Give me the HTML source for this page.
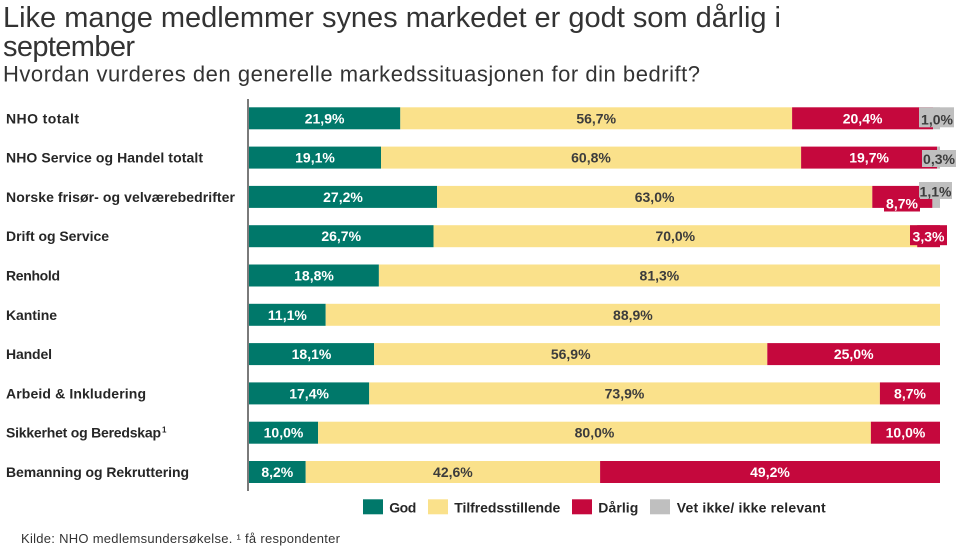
<!DOCTYPE html>
<html>
<head>
<meta charset="utf-8">
<style>
  html, body { margin:0; padding:0; background:#ffffff; }
  svg { display:block; }
  text { font-family: "Liberation Sans", Arial, sans-serif; }
  .lbl { font-size:14px; font-weight:bold; fill:#262626; }
  .vw { font-size:14px; font-weight:bold; fill:#ffffff; text-anchor:middle; }
  .vd { font-size:14px; font-weight:bold; fill:#3c3c3c; text-anchor:middle; }
  .leg { font-size:14px; font-weight:bold; fill:#262626; }
</style>
</head>
<body>
<svg width="960" height="558" viewBox="0 0 960 558" xmlns="http://www.w3.org/2000/svg">
  <rect x="0" y="0" width="960" height="558" fill="#ffffff"/>

  <!-- Titles -->
  <text x="3" y="27" font-size="29" fill="#333333" textLength="778" lengthAdjust="spacing">Like mange medlemmer synes markedet er godt som dårlig i</text>
  <text x="3" y="56" font-size="29" fill="#333333" textLength="132" lengthAdjust="spacing">september</text>
  <text x="3" y="81.5" font-size="22" fill="#333333" textLength="697" lengthAdjust="spacing">Hvordan vurderes den generelle markedssituasjonen for din bedrift?</text>

  <!-- Row labels -->
  <text class="lbl" x="6" y="123.3" textLength="73" lengthAdjust="spacing">NHO totalt</text>
  <text class="lbl" x="6" y="162.6" textLength="197" lengthAdjust="spacing">NHO Service og Handel totalt</text>
  <text class="lbl" x="6" y="201.9" textLength="229" lengthAdjust="spacing">Norske frisør- og velværebedrifter</text>
  <text class="lbl" x="6" y="241.2" textLength="103" lengthAdjust="spacing">Drift og Service</text>
  <text class="lbl" x="6" y="280.5" textLength="54" lengthAdjust="spacing">Renhold</text>
  <text class="lbl" x="6" y="319.8" textLength="51" lengthAdjust="spacing">Kantine</text>
  <text class="lbl" x="6" y="359.1" textLength="46" lengthAdjust="spacing">Handel</text>
  <text class="lbl" x="6" y="398.4" textLength="140" lengthAdjust="spacing">Arbeid &amp; Inkludering</text>
  <text class="lbl" x="6" y="437.7" textLength="155" lengthAdjust="spacing">Sikkerhet og Beredskap</text>
  <text x="162" y="432.5" font-size="8" font-weight="bold" fill="#262626">1</text>
  <text class="lbl" x="6" y="477" textLength="183" lengthAdjust="spacing">Bemanning og Rekruttering</text>

  <!-- Bars -->
  <g>
    <rect x="249" y="107.3" width="151.3" height="22" fill="#00786A"/>
    <rect x="400.3" y="107.3" width="391.8" height="22" fill="#FAE18B"/>
    <rect x="792.1" y="107.3" width="141" height="22" fill="#C5083D"/>
    <rect x="933.1" y="107.3" width="6.9" height="22" fill="#BFBFBF"/>

    <rect x="249" y="146.6" width="132" height="22" fill="#00786A"/>
    <rect x="381" y="146.6" width="420.1" height="22" fill="#FAE18B"/>
    <rect x="801.1" y="146.6" width="136.1" height="22" fill="#C5083D"/>
    <rect x="937.2" y="146.6" width="2.8" height="22" fill="#BFBFBF"/>

    <rect x="249" y="185.9" width="188" height="22" fill="#00786A"/>
    <rect x="437" y="185.9" width="435.3" height="22" fill="#FAE18B"/>
    <rect x="872.3" y="185.9" width="60.1" height="22" fill="#C5083D"/>
    <rect x="932.4" y="185.9" width="7.6" height="22" fill="#BFBFBF"/>

    <rect x="249" y="225.2" width="184.5" height="22" fill="#00786A"/>
    <rect x="433.5" y="225.2" width="483.7" height="22" fill="#FAE18B"/>
    <rect x="917.2" y="225.2" width="22.8" height="22" fill="#C5083D"/>

    <rect x="249" y="264.5" width="129.9" height="22" fill="#00786A"/>
    <rect x="378.9" y="264.5" width="561.1" height="22" fill="#FAE18B"/>

    <rect x="249" y="303.8" width="76.7" height="22" fill="#00786A"/>
    <rect x="325.7" y="303.8" width="614.3" height="22" fill="#FAE18B"/>

    <rect x="249" y="343.1" width="125.1" height="22" fill="#00786A"/>
    <rect x="374.1" y="343.1" width="393.2" height="22" fill="#FAE18B"/>
    <rect x="767.3" y="343.1" width="172.7" height="22" fill="#C5083D"/>

    <rect x="249" y="382.4" width="120.2" height="22" fill="#00786A"/>
    <rect x="369.2" y="382.4" width="510.7" height="22" fill="#FAE18B"/>
    <rect x="879.9" y="382.4" width="60.1" height="22" fill="#C5083D"/>

    <rect x="249" y="421.7" width="69.1" height="22" fill="#00786A"/>
    <rect x="318.1" y="421.7" width="552.8" height="22" fill="#FAE18B"/>
    <rect x="870.9" y="421.7" width="69.1" height="22" fill="#C5083D"/>

    <rect x="249" y="461" width="56.7" height="22" fill="#00786A"/>
    <rect x="305.7" y="461" width="294.4" height="22" fill="#FAE18B"/>
    <rect x="600.1" y="461" width="339.9" height="22" fill="#C5083D"/>
  </g>

  <!-- Axis line -->
  <line x1="248" y1="99" x2="248" y2="491" stroke="#333333" stroke-width="1.3"/>

  <!-- Value labels -->
  <text class="vw" x="324.6" y="123.3">21,9%</text>
  <text class="vd" x="596.2" y="123.3">56,7%</text>
  <text class="vw" x="862.6" y="123.3">20,4%</text>
  <rect x="919" y="107.3" width="35" height="20" fill="#BFBFBF"/>
  <text class="vd" x="937" y="124.5">1,0%</text>

  <text class="vw" x="315" y="162.6">19,1%</text>
  <text class="vd" x="591" y="162.6">60,8%</text>
  <text class="vw" x="869.1" y="162.6">19,7%</text>
  <rect x="922" y="150" width="34" height="17" fill="#BFBFBF"/>
  <text class="vd" x="939" y="164">0,3%</text>

  <text class="vw" x="343" y="201.9">27,2%</text>
  <text class="vd" x="654.6" y="201.9">63,0%</text>
  <rect x="919" y="182" width="33" height="17" fill="#BFBFBF"/>
  <text class="vd" x="935.5" y="196.5">1,1%</text>
  <rect x="884" y="197.5" width="36" height="14" fill="#C5083D"/>
  <text class="vw" x="902" y="208.5">8,7%</text>

  <text class="vw" x="341.2" y="241.2">26,7%</text>
  <text class="vd" x="675.3" y="241.2">70,0%</text>
  <rect x="910" y="225.2" width="37" height="20" fill="#C5083D"/>
  <text class="vw" x="928.5" y="241.5">3,3%</text>

  <text class="vw" x="314" y="280.5">18,8%</text>
  <text class="vd" x="659.4" y="280.5">81,3%</text>

  <text class="vw" x="287.4" y="319.8">11,1%</text>
  <text class="vd" x="632.9" y="319.8">88,9%</text>

  <text class="vw" x="311.5" y="359.1">18,1%</text>
  <text class="vd" x="570.7" y="359.1">56,9%</text>
  <text class="vw" x="853.7" y="359.1">25,0%</text>

  <text class="vw" x="309.1" y="398.4">17,4%</text>
  <text class="vd" x="624.5" y="398.4">73,9%</text>
  <text class="vw" x="910" y="398.4">8,7%</text>

  <text class="vw" x="283.5" y="437.7">10,0%</text>
  <text class="vd" x="594.5" y="437.7">80,0%</text>
  <text class="vw" x="905.5" y="437.7">10,0%</text>

  <text class="vw" x="277.3" y="477">8,2%</text>
  <text class="vd" x="452.9" y="477">42,6%</text>
  <text class="vw" x="770" y="477">49,2%</text>

  <!-- Legend -->
  <rect x="363" y="499.3" width="20" height="15" fill="#00786A"/>
  <text class="leg" x="389.3" y="512.5" textLength="27" lengthAdjust="spacing">God</text>
  <rect x="428" y="499.3" width="20" height="15" fill="#FAE18B"/>
  <text class="leg" x="454.3" y="512.5" textLength="106" lengthAdjust="spacing">Tilfredsstillende</text>
  <rect x="572" y="499.3" width="20" height="15" fill="#C5083D"/>
  <text class="leg" x="598.3" y="512.5" textLength="40" lengthAdjust="spacing">Dårlig</text>
  <rect x="650" y="499.3" width="20" height="15" fill="#BFBFBF"/>
  <text class="leg" x="676.7" y="512.5" textLength="149" lengthAdjust="spacing">Vet ikke/ ikke relevant</text>

  <!-- Footer -->
  <text x="21" y="543" font-size="13" fill="#333333" textLength="319" lengthAdjust="spacing">Kilde: NHO medlemsundersøkelse. ¹ få respondenter</text>
</svg>
</body>
</html>
